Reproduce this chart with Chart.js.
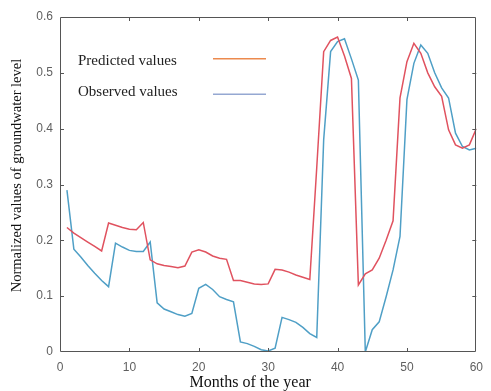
<!DOCTYPE html>
<html>
<head>
<meta charset="utf-8">
<script src="https://cdn.jsdelivr.net/npm/chart.js@4.4.0/dist/chart.umd.min.js"></script>
<style>
html,body{margin:0;padding:0;background:#fff;}
#wrap{width:491px;height:391px;}
</style>
</head>
<body>
<div id="wrap"><canvas id="c" width="491" height="391"></canvas></div>
<script>
// ---- data ----
const months = [1,2,3,4,5,6,7,8,9,10,11,12,13,14,15,16,17,18,19,20,
  21,22,23,24,25,26,27,28,29,30,31,32,33,34,35,36,37,38,39,40,
  41,42,43,44,45,46,47,48,49,50,51,52,53,54,55,56,57,58,59,60];
const predicted = [0.223,0.213,0.205,0.197,0.189,0.181,0.231,0.227,0.223,0.220,
  0.219,0.232,0.165,0.158,0.155,0.153,0.151,0.154,0.179,0.183,
  0.179,0.172,0.168,0.166,0.128,0.128,0.125,0.122,0.121,0.122,
  0.148,0.147,0.143,0.138,0.134,0.130,0.330,0.538,0.558,0.564,
  0.530,0.490,0.120,0.140,0.147,0.168,0.200,0.235,0.455,0.520,
  0.553,0.535,0.500,0.475,0.458,0.398,0.371,0.365,0.371,0.400];
const observed = [0.290,0.184,0.170,0.155,0.141,0.128,0.117,0.195,0.188,0.182,
  0.180,0.180,0.197,0.088,0.077,0.072,0.067,0.064,0.069,0.114,
  0.121,0.112,0.099,0.094,0.090,0.018,0.015,0.010,0.004,0.002,
  0.007,0.062,0.058,0.053,0.044,0.033,0.026,0.380,0.538,0.556,
  0.561,0.525,0.487,0.000,0.040,0.054,0.099,0.147,0.207,0.452,
  0.517,0.550,0.535,0.500,0.473,0.455,0.392,0.368,0.362,0.365];
const xTickValues = [0,10,20,30,40,50,60];
const yTickValues = [0,0.1,0.2,0.3,0.4,0.5,0.6];
const seriesNames = ['Predicted values','Observed values'];
const xTitle = 'Months of the year';
const yTitle = 'Normalized values of groundwater level';

// ---- styles ----
const lineColors = ['#e0525f','#4f9fc6'];
const legendColors = ['#ec8a4e','#95a8d2'];
const serif = '"Liberation Serif","Times New Roman",serif';
const sans = '"Liberation Sans",Arial,sans-serif';

const toPts = arr => months.map((m,i)=>({x:m,y:arr[i]}));

const boxPlugin = {
  id:'box',
  afterDatasetsDraw(chart){
    const {ctx, chartArea:a, scales:{x,y}} = chart;
    ctx.save();
    ctx.strokeStyle = '#555';
    ctx.lineWidth = 1;
    ctx.beginPath();
    ctx.rect(Math.round(a.left)+0.5, Math.round(a.top)+0.5,
             Math.round(a.right-a.left)-1, Math.round(a.bottom-a.top)-1);
    ctx.stroke();
    const L = 4;
    ctx.beginPath();
    xTickValues.forEach(v=>{
      if (v===x.min || v===x.max) return;
      const px = Math.round(x.getPixelForValue(v))+0.5;
      ctx.moveTo(px, a.bottom); ctx.lineTo(px, a.bottom-L);
      ctx.moveTo(px, a.top); ctx.lineTo(px, a.top+L);
    });
    yTickValues.forEach(v=>{
      if (Math.abs(v-y.min)<1e-9 || Math.abs(v-y.max)<1e-9) return;
      const py = Math.round(y.getPixelForValue(v))+0.5;
      ctx.moveTo(a.left, py); ctx.lineTo(a.left+L, py);
      ctx.moveTo(a.right, py); ctx.lineTo(a.right-L, py);
    });
    ctx.stroke();
    ctx.restore();
  }
};

const legendPlugin = {
  id:'innerLegend',
  afterDatasetsDraw(chart){
    const {ctx, chartArea:a} = chart;
    ctx.save();
    ctx.font = '15px ' + serif;
    ctx.fillStyle = '#222';
    ctx.textBaseline = 'alphabetic';
    const rows = [{ty:48, ly:41.7},{ty:79, ly:77.3}];
    seriesNames.forEach((name,i)=>{
      ctx.fillText(name, a.left+18, a.top+rows[i].ty);
      ctx.strokeStyle = legendColors[i];
      ctx.lineWidth = 1.6;
      ctx.beginPath();
      ctx.moveTo(a.left+153, a.top+rows[i].ly);
      ctx.lineTo(a.left+206, a.top+rows[i].ly);
      ctx.stroke();
    });
    ctx.restore();
  }
};

const titlesPlugin = {
  id:'axisTitles',
  afterDraw(chart){
    const {ctx, chartArea:a} = chart;
    ctx.save();
    ctx.fillStyle = '#111';
    ctx.textAlign = 'center';
    ctx.textBaseline = 'middle';
    // x title
    ctx.font = '16px ' + serif;
    ctx.fillText(xTitle, (a.left + a.right)/2 - 18, a.bottom + 31);
    // y title
    ctx.font = '14.5px ' + serif;
    ctx.translate(17.5, (a.top + a.bottom)/2 - 9);
    ctx.rotate(-Math.PI/2);
    ctx.fillText(yTitle, 0, 0);
    ctx.restore();
  }
};

new Chart(document.getElementById('c'), {
  type:'line',
  data:{
    datasets:[
      {label:seriesNames[0], data:toPts(predicted), borderColor:lineColors[0], borderWidth:1.5, pointRadius:0, tension:0, fill:false},
      {label:seriesNames[1], data:toPts(observed), borderColor:lineColors[1], borderWidth:1.5, pointRadius:0, tension:0, fill:false}
    ]
  },
  options:{
    responsive:false,
    animation:false,
    devicePixelRatio:1,
    layout:{padding:{left:9, top:17, right:6, bottom:0}},
    plugins:{legend:{display:false}, tooltip:{enabled:false}},
    scales:{
      x:{
        type:'linear', min:0, max:60,
        afterBuildTicks(s){ s.ticks = xTickValues.map(v=>({value:v})); },
        afterFit(s){ s.height = 39; },
        grid:{display:false, drawTicks:false}, border:{display:false},
        ticks:{color:'#5f5f5f', font:{family:sans, size:12}, padding:8, maxRotation:0, autoSkip:false},
        title:{display:false}
      },
      y:{
        min:0, max:0.6,
        afterBuildTicks(s){ s.ticks = yTickValues.map(v=>({value:v})); },
        afterFit(s){ s.width = 51; },
        grid:{display:false, drawTicks:false}, border:{display:false},
        ticks:{color:'#5f5f5f', font:{family:sans, size:12}, padding:7,
               callback:v=>String(Math.round(v*10)/10)},
        title:{display:false}
      }
    }
  },
  plugins:[boxPlugin, legendPlugin, titlesPlugin]
});
</script>
</body>
</html>
